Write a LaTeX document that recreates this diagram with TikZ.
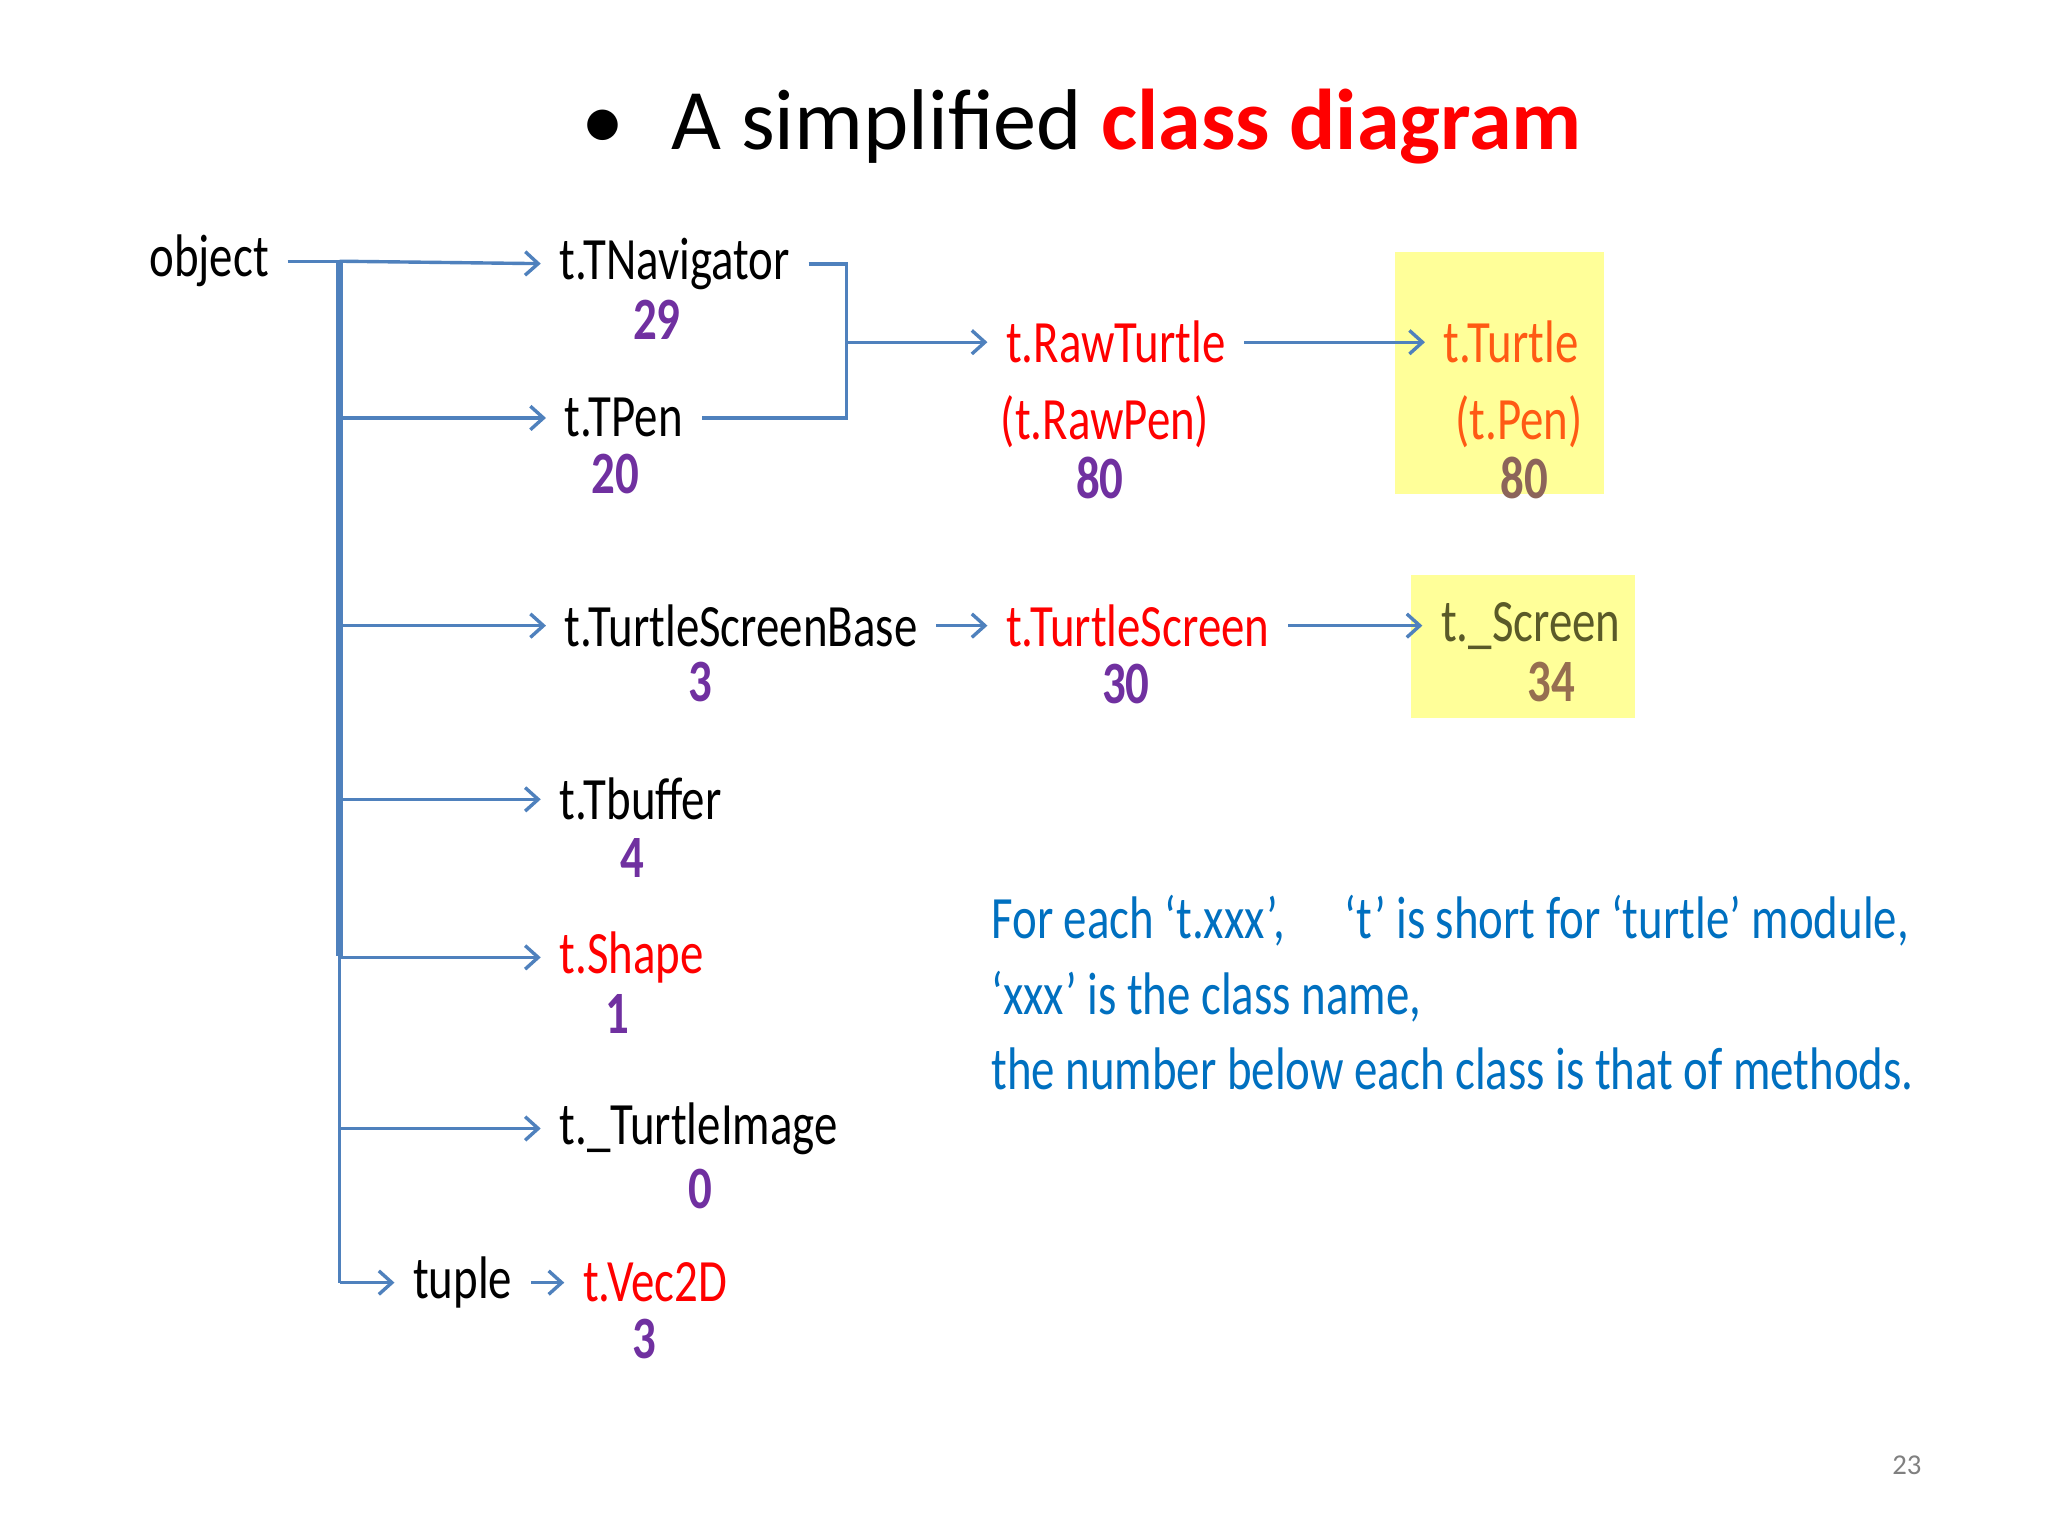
\documentclass[tikz,border=0pt]{standalone}
\usepackage{fontspec}
\setmainfont{Carlito}
\newfontfamily\cf[FakeStretch=0.78]{Carlito}
\usetikzlibrary{arrows.meta}
\definecolor{lnblue}{RGB}{79,129,189}
\definecolor{numpurp}{RGB}{112,48,160}
\definecolor{txtblue}{RGB}{0,112,192}
\definecolor{ylw}{RGB}{255,255,153}
\begin{document}
\begin{tikzpicture}[x=0.5pt,y=-0.5pt,
  lbl/.style={anchor=west,inner sep=1pt,font=\cf\fontsize{23}{26}\selectfont},
  num/.style={inner sep=1pt,text=numpurp,font=\cf\bfseries\fontsize{23}{26}\selectfont},
  conn/.style={draw=lnblue,line width=1.3pt},
  arr/.style={conn,shorten >=6pt,-{Straight Barb[length=5pt,width=9pt]}},
  gap/.style={shorten <=6pt}]
\useasboundingbox (0,0) rectangle (1568,1176);
\fill[white] (0,0) rectangle (1568,1176);
\fill[ylw] (1068,193) rectangle (1228,378);
\fill[ylw] (1080,440) rectangle (1252,550);
\node[anchor=west,font=\fontsize{33}{38}\selectfont] (title) at (438,97) {\textbullet\hspace{0.55em}A simplified \textcolor{red}{\bfseries class diagram}};
\node[lbl] (obj) at (112,200) {object};
\node[lbl] (nav) at (426,202) {t.TNavigator};
\node[num] (n29) at (503,245) {29};
\node[lbl] (pen) at (430,320) {t.TPen};
\node[num] (n20) at (471,363) {20};
\node[lbl,text=red] (raw) at (768,262) {t.RawTurtle};
\node[text=red,inner sep=1pt,font=\cf\fontsize{23}{26}\selectfont] (rawpen) at (846,323) {(t.RawPen)};
\node[num] (n80a) at (842,366) {80};
\node[lbl,text={rgb,255:red,255;green,90;blue,20}] (tur) at (1103,262) {t.Turtle};
\node[text={rgb,255:red,255;green,90;blue,20},inner sep=1pt,font=\cf\fontsize{23}{26}\selectfont] (tpen) at (1163,323) {(t.Pen)};
\node[num,text={rgb,255:red,140;green,100;blue,90}] (n80b) at (1167,366) {80};
\node[lbl] (tsb) at (430,479) {t.TurtleScreenBase};
\node[num] (n3a) at (536,522) {3};
\node[lbl,text=red] (ts) at (768,479) {t.TurtleScreen};
\node[num] (n30) at (862,524) {30};
\node[lbl,text={rgb,255:red,90;green,90;blue,40}] (scr) at (1101,479) {t.\_Screen};
\node[num,text={rgb,255:red,150;green,110;blue,80}] (n34) at (1188,522) {34};
\node[lbl] (buf) at (426,612) {t.Tbuffer};
\node[num] (n4) at (484,657) {4};
\node[lbl,text=red] (shp) at (426,733) {t.Shape};
\node[num] (n1) at (473,776) {1};
\node[lbl] (img) at (426,864) {t.\_TurtleImage};
\node[num] (n0) at (536,910) {0};
\node[lbl] (tup) at (314,982) {tuple};
\node[lbl,text=red] (vec) at (444,982) {t.Vec2D};
\node[num] (n3b) at (493,1025) {3};
\node[anchor=west,align=left,text=txtblue,font=\cf\fontsize{23}{28}\selectfont] (note) at (752,760)
 {For each ‘t.xxx’,\quad ‘t’ is short for ‘turtle’ module,\\[1pt]‘xxx’ is the class name,\\[1pt]the number below each class is that of methods.};
\node[text=gray,font=\fontsize{11}{13}\selectfont] (pg) at (1460,1122) {23};
% trunk
\coordinate (ta) at (260,200);
\coordinate (tb) at (260,732);
\coordinate (tc) at (260,982);
\draw[conn,gap] (obj.east) -- (ta);
\draw[draw=lnblue,line width=2.4pt] (ta) -- (tb);
\draw[conn] (tb) -- (tc);
\draw[arr] (ta) -- (nav.west);
\draw[arr] (260,320) -- (pen.west);
\draw[arr] (260,479) -- (tsb.west);
\draw[arr] (260,612) -- (buf.west);
\draw[arr] (260,733) -- (shp.west);
\draw[arr] (260,864) -- (img.west);
\draw[arr] (tc) -- (tup.west);
\draw[arr,gap] (tup.east) -- (vec.west);
\coordinate (jn) at (648,262);
\draw[conn,shorten <=6pt,shorten >=6pt] (nav.east) -- (648,202) -- (648,320) -- (pen.east);
\draw[arr] (jn) -- (raw.west);
\draw[arr,gap] (raw.east) -- (tur.west);
\draw[arr,gap] (tsb.east) -- (ts.west);
\draw[arr,gap] (ts.east) -- (scr.west);
\end{tikzpicture}
\end{document}
